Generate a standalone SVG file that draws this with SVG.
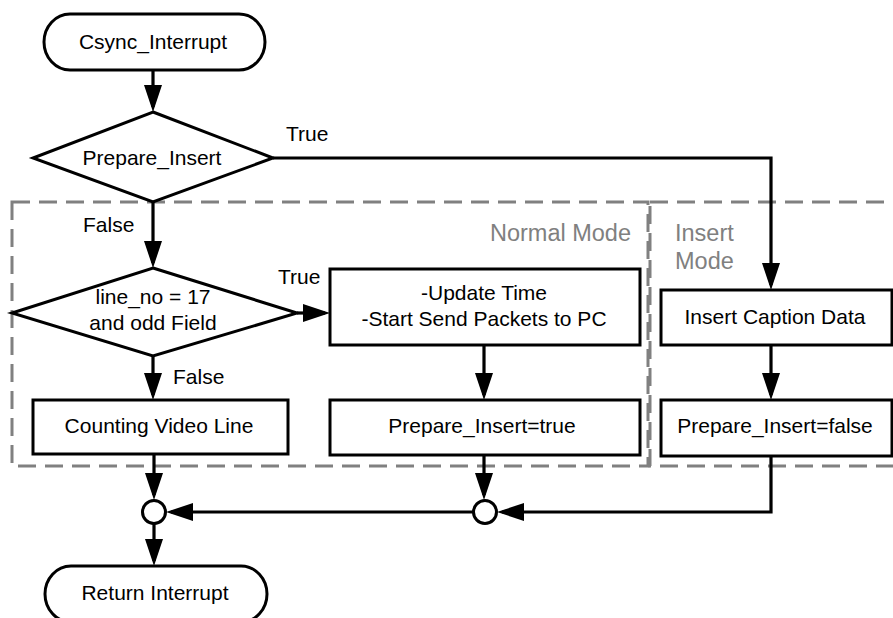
<svg xmlns="http://www.w3.org/2000/svg" width="893" height="618" viewBox="0 0 893 618">
<defs>
<marker id="ah" markerUnits="userSpaceOnUse" markerWidth="28" markerHeight="18" refX="22" refY="9" orient="auto">
<path d="M0,0 L27,9 L0,18 Z" fill="#000"/>
</marker>
<style>
.shape{fill:#fff;stroke:#000;stroke-width:3}
.t{font-family:"Liberation Sans",Arial,sans-serif;font-size:21px;fill:#000;text-anchor:middle}
.lbl{font-family:"Liberation Sans",Arial,sans-serif;font-size:21px;fill:#000}
.mode{font-family:"Liberation Sans",Arial,sans-serif;font-size:23.5px;fill:#808080}
.region{fill:none;stroke:#808080;stroke-width:3;stroke-dasharray:18 9}
.conn{fill:none;stroke:#000;stroke-width:3.2;marker-end:url(#ah)}
</style>
</defs>
<rect width="893" height="618" fill="#fff"/>
<g id="regions">
<rect class="region" x="12" y="202" width="636" height="264"/>
<rect class="region" x="650" y="202" width="260" height="264"/>
<text class="mode" x="631" y="241" text-anchor="end">Normal Mode</text>
<text class="mode" x="675" y="241">Insert</text>
<text class="mode" x="675" y="269">Mode</text>
</g>
<g id="connectors">
<path class="conn" d="M153,70 V107"/>
<path class="conn" d="M273,158 H771 V285"/>
<path class="conn" d="M153,202 V263"/>
<path class="conn" d="M297,313 H325"/>
<path class="conn" d="M153,356 V395"/>
<path class="conn" d="M484,345 V395"/>
<path class="conn" d="M771,345 V395"/>
<path class="conn" d="M154,454 V495"/>
<path class="conn" d="M484,455 V495"/>
<path class="conn" d="M771,456 V512 H502"/>
<path class="conn" d="M473,512 H171"/>
<path class="conn" d="M154,524 V561"/>
<text class="lbl" x="286" y="141">True</text>
<text class="lbl" x="83" y="232">False</text>
<text class="lbl" x="278" y="284">True</text>
<text class="lbl" x="173" y="384">False</text>
</g>
<g id="csync_interrupt">
<rect class="shape" x="44" y="14" width="221" height="56" rx="26" ry="28"/>
<text class="t" x="153" y="49">Csync_Interrupt</text>
</g>
<g id="prepare_insert">
<polygon class="shape" points="153,112 273,158 153,202 33,158"/>
<text class="t" x="152" y="165">Prepare_Insert</text>
</g>
<g id="line_no_check">
<polygon class="shape" points="153,268 297,313 153,356 12,313"/>
<text class="t" x="153" y="304">line_no = 17</text>
<text class="t" x="153" y="330">and odd Field</text>
</g>
<g id="update_time">
<rect class="shape" x="330" y="269" width="310" height="76"/>
<text class="t" x="484" y="300">-Update Time</text>
<text class="t" x="484" y="326">-Start Send Packets to PC</text>
</g>
<g id="counting_video_line">
<rect class="shape" x="33" y="400" width="255" height="54"/>
<text class="t" x="159" y="433">Counting Video Line</text>
</g>
<g id="prepare_insert_true">
<rect class="shape" x="330" y="400" width="310" height="55"/>
<text class="t" x="482" y="433">Prepare_Insert=true</text>
</g>
<g id="insert_caption_data">
<rect class="shape" x="661" y="290" width="231" height="55"/>
<text class="t" x="775" y="324">Insert Caption Data</text>
</g>
<g id="prepare_insert_false">
<rect class="shape" x="661" y="400" width="231" height="56"/>
<text class="t" x="775" y="433">Prepare_Insert=false</text>
</g>
<g id="junction1">
<circle class="shape" cx="154" cy="512" r="11.5" stroke-width="2.5"/>
</g>
<g id="junction2">
<circle class="shape" cx="485" cy="512" r="11.5" stroke-width="2.5"/>
</g>
<g id="return_interrupt">
<rect class="shape" x="45" y="566" width="222" height="56" rx="26" ry="28"/>
<text class="t" x="155" y="600">Return Interrupt</text>
</g>
</svg>
